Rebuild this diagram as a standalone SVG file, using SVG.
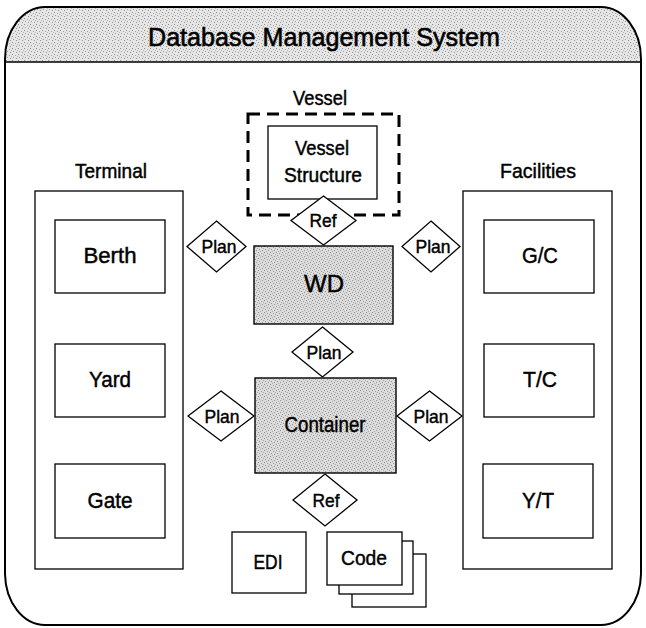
<svg xmlns="http://www.w3.org/2000/svg" width="646" height="628" viewBox="0 0 646 628">
<defs>
<pattern id="stip" width="6" height="6" patternUnits="userSpaceOnUse">
<rect width="6" height="6" fill="#e6e6e6"/>
<rect x="0" y="0" width="1" height="1" fill="#8a8a8a"/>
<rect x="3" y="1" width="1" height="1" fill="#a0a0a0"/>
<rect x="1" y="3" width="1" height="1" fill="#999"/>
<rect x="4" y="4" width="1" height="1" fill="#8f8f8f"/>
<rect x="5" y="2" width="1" height="1" fill="#b5b5b5"/>
</pattern>
<pattern id="stip2" width="6" height="6" patternUnits="userSpaceOnUse">
<rect width="6" height="6" fill="#dcdcdc"/>
<rect x="0" y="0" width="1" height="1" fill="#8a8a8a"/>
<rect x="3" y="1" width="1" height="1" fill="#9a9a9a"/>
<rect x="1" y="3" width="1" height="1" fill="#929292"/>
<rect x="4" y="4" width="1" height="1" fill="#8f8f8f"/>
<rect x="2" y="5" width="1" height="1" fill="#aaa"/>
<rect x="5" y="2" width="1" height="1" fill="#a5a5a5"/>
</pattern>
</defs>
<style>
text{font-family:"Liberation Sans",Arial,sans-serif;fill:#000;stroke:#000;stroke-width:0.45;text-anchor:middle}
.lbl{font-size:21px}
.box{fill:#fff;stroke:#000;stroke-width:1.3}
.grp{fill:none;stroke:#000;stroke-width:1.3}
.ent{fill:url(#stip2);stroke:#000;stroke-width:1.4}
.rel{fill:#fff;stroke:#000;stroke-width:1.3}
.rt{font-size:19px}
.bt{font-size:22px}
</style>
<g id="frame">
<path d="M5,62 L5,59 A40,52 0 0 1 45,7 L601,7 A40,52 0 0 1 641,59 L641,62 Z" fill="url(#stip)"/>
<path d="M5,59 A40,52 0 0 1 45,7 L601,7 A40,52 0 0 1 641,59 L641,574 A40,52 0 0 1 601,625 L45,625 A40,52 0 0 1 5,574 Z" fill="none" stroke="#000" stroke-width="2"/>
<line x1="5" y1="62" x2="641" y2="62" stroke="#000" stroke-width="1.5"/>
<text x="324" y="46" font-size="26" textLength="352" lengthAdjust="spacingAndGlyphs" style="stroke-width:0.6">Database Management System</text>
</g>
<g id="terminal">
<text class="lbl" x="111" y="178" textLength="72" lengthAdjust="spacingAndGlyphs">Terminal</text>
<rect class="grp" x="35" y="191" width="148" height="378"/>
</g>
<g id="berth"><rect class="box" x="55" y="220" width="110" height="73"/><text class="bt" x="110" y="263" textLength="53" lengthAdjust="spacingAndGlyphs">Berth</text></g>
<g id="yard"><rect class="box" x="55" y="344" width="110" height="73"/><text class="bt" x="110" y="387" textLength="42" lengthAdjust="spacingAndGlyphs">Yard</text></g>
<g id="gate"><rect class="box" x="55" y="464" width="110" height="74"/><text class="bt" x="110" y="508" textLength="45" lengthAdjust="spacingAndGlyphs">Gate</text></g>
<g id="facilities">
<text class="lbl" x="538" y="178" textLength="76" lengthAdjust="spacingAndGlyphs">Facilities</text>
<rect class="grp" x="463" y="191" width="149" height="378"/>
</g>
<g id="gc"><rect class="box" x="484" y="220" width="110" height="73"/><text class="bt" x="540" y="263" textLength="36" lengthAdjust="spacingAndGlyphs">G/C</text></g>
<g id="tc"><rect class="box" x="484" y="344" width="110" height="73"/><text class="bt" x="540" y="387" textLength="34" lengthAdjust="spacingAndGlyphs">T/C</text></g>
<g id="yt"><rect class="box" x="483" y="464" width="110" height="74"/><text class="bt" x="538" y="508" textLength="32" lengthAdjust="spacingAndGlyphs">Y/T</text></g>
<g id="vessel">
<text class="lbl" x="320" y="105" textLength="54" lengthAdjust="spacingAndGlyphs">Vessel</text>
<rect x="248" y="114" width="151" height="101" fill="none" stroke="#000" stroke-width="3" stroke-dasharray="12 7"/>
</g>
<g id="vessel-structure">
<rect class="box" x="268" y="126" width="109" height="73"/>
<text class="lbl" x="322" y="155" textLength="54" lengthAdjust="spacingAndGlyphs">Vessel</text>
<text class="lbl" x="323" y="182" textLength="78" lengthAdjust="spacingAndGlyphs">Structure</text>
</g>
<g id="wd"><rect class="ent" x="254" y="246" width="139" height="78"/><text x="324" y="292" font-size="24" textLength="40" lengthAdjust="spacingAndGlyphs">WD</text></g>
<g id="container"><rect class="ent" x="255" y="378" width="141" height="95"/><text x="325" y="432" font-size="22" textLength="81" lengthAdjust="spacingAndGlyphs">Container</text></g>
<g id="edi"><rect class="box" x="232" y="532" width="74" height="61"/><text x="268" y="569" font-size="20" textLength="29" lengthAdjust="spacingAndGlyphs">EDI</text></g>
<g id="code">
<rect class="box" x="352" y="554" width="74" height="53"/>
<rect class="box" x="339" y="541" width="74" height="53"/>
<rect class="box" x="327" y="532" width="75" height="53"/>
<text x="364" y="565" font-size="21" textLength="46" lengthAdjust="spacingAndGlyphs">Code</text>
</g>
<g id="connectors">
<g id="ref-vessel-wd"><polygon class="rel" points="323.5,196 356,220.5 323.5,245 291,220.5"/><text class="rt" x="323" y="227" textLength="27" lengthAdjust="spacingAndGlyphs">Ref</text></g>
<g id="plan-terminal-wd"><polygon class="rel" points="216.5,221 246,246.5 216.5,272 187,246.5"/><text class="rt" x="219" y="253" textLength="35" lengthAdjust="spacingAndGlyphs">Plan</text></g>
<g id="plan-wd-facilities"><polygon class="rel" points="431,221 460,246.5 431,272 402,246.5"/><text class="rt" x="433" y="253" textLength="35" lengthAdjust="spacingAndGlyphs">Plan</text></g>
<g id="plan-wd-container"><polygon class="rel" points="322.5,327 353,352 322.5,377 292,352"/><text class="rt" x="324" y="359" textLength="35" lengthAdjust="spacingAndGlyphs">Plan</text></g>
<g id="plan-terminal-container"><polygon class="rel" points="221,391 254,416 221,441 188,416"/><text class="rt" x="222" y="423" textLength="35" lengthAdjust="spacingAndGlyphs">Plan</text></g>
<g id="plan-container-facilities"><polygon class="rel" points="429.5,391 462,416 429.5,441 397,416"/><text class="rt" x="431" y="423" textLength="35" lengthAdjust="spacingAndGlyphs">Plan</text></g>
<g id="ref-container-code"><polygon class="rel" points="325,474 357,500 325,526 293,500"/><text class="rt" x="326" y="507" textLength="27" lengthAdjust="spacingAndGlyphs">Ref</text></g>
</g>
</svg>
